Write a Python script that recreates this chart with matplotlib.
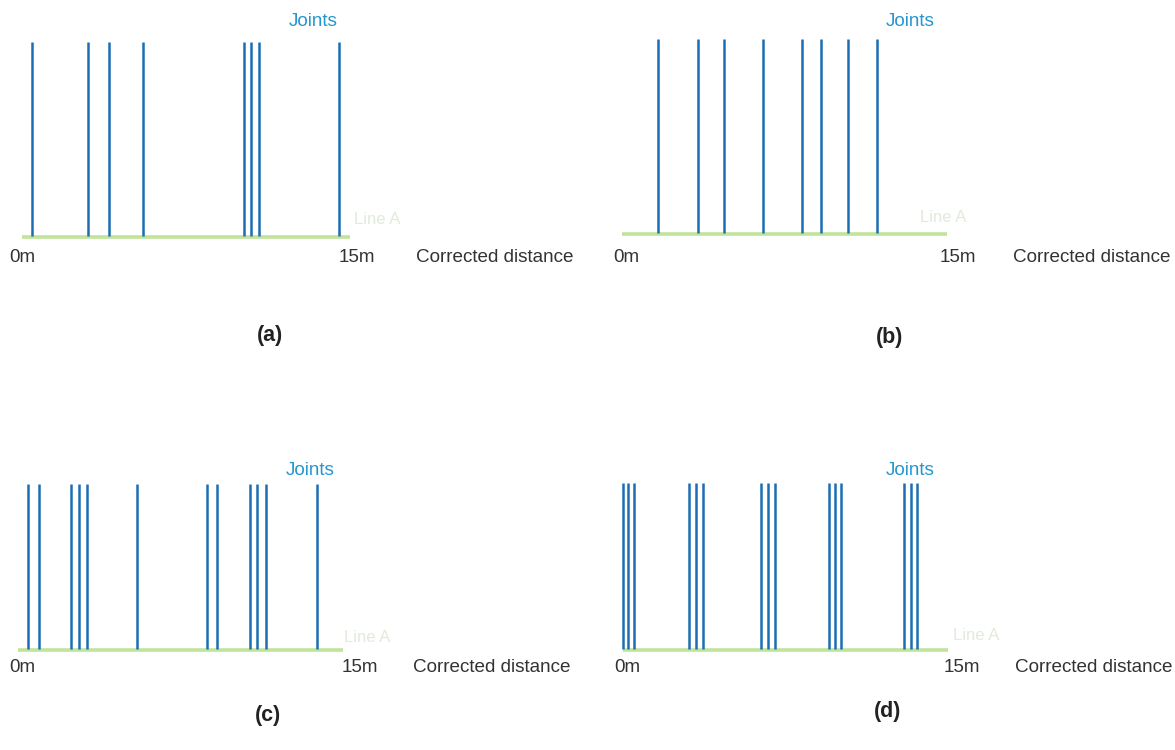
import matplotlib
matplotlib.use("Agg")
import matplotlib.pyplot as plt

plt.rcParams['font.family'] = ['Liberation Sans', 'DejaVu Sans']

W, H = 1175, 750

# joint positions along line A (m)
joints_a = [0.48, 3.02, 3.97, 5.56, 10.14, 10.48, 10.84, 14.50]
joints_b = [1.69, 3.51, 4.73, 6.53, 8.33, 9.21, 10.46, 11.77]
joints_c = [0.48, 0.97, 2.45, 2.80, 3.17, 5.48, 8.71, 9.20, 10.71, 11.04, 11.44, 13.81]
joints_d = [0.03, 0.26, 0.53, 3.07, 3.36, 3.71, 6.36, 6.69, 7.00,
            9.49, 9.77, 10.04, 12.96, 13.27, 13.54]
panel_names = ["(a)", "(b)", "(c)", "(d)"]
line_length = 15

joint_col = "#1c6db3"
label_col = "#2596cf"
green = "#c2e49a"
faint = "#e2ebda"


def px(x, y):
    # pixel position (top-left origin) -> figure fraction
    return x / W, 1 - y / H


fig = plt.figure(figsize=(W / 100, H / 100), dpi=100)

# left, right, baseline y, top y of each panel (pixels)
boxes = [
    (21.7, 350.0, 237, 41.5),
    (621.7, 946.7, 234, 38.5),
    (18.0, 343.0, 650, 484),
    (622.7, 948.3, 650, 483),
]
# joints, line A, 0m, 15m, corrected distance (left edge), panel name
text_pos = [
    dict(j=(313, 22), la=(377, 220), z=(22, 257), f=(357, 257), cd=(416, 257), n=(270, 335)),
    dict(j=(910, 22), la=(943, 217), z=(626, 257), f=(958, 257), cd=(1013, 257), n=(890, 338)),
    dict(j=(310, 470), la=(367, 637), z=(22, 667), f=(360, 667), cd=(413, 667), n=(268, 715)),
    dict(j=(910, 470), la=(976, 636), z=(627, 667), f=(962, 667), cd=(1015, 667), n=(888, 712)),
]
all_joints = [joints_a, joints_b, joints_c, joints_d]
fs = 13.6

for joints, box, tp, name in zip(all_joints, boxes, text_pos, panel_names):
    l, r, yb, yt = box
    x0, y0 = px(l, yb)
    ax = fig.add_axes([x0, y0, (r - l) / W, (yb - yt) / H])
    ax.set_xlim(0, line_length)
    ax.set_ylim(0, 1)
    ax.axis("off")
    ax.plot([0, line_length], [0, 0], color=green, lw=2.6, clip_on=False,
            solid_capstyle="butt", zorder=1)
    ax.vlines(joints, 0.005, 1, color=joint_col, lw=1.8, clip_on=False, zorder=2)

    fig.text(*px(*tp["j"]), "Joints", color=label_col, fontsize=fs,
             ha="center", va="center")
    fig.text(*px(*tp["la"]), "Line A", color=faint, fontsize=12,
             ha="center", va="center")
    fig.text(*px(*tp["z"]), "0m", color="#333333", fontsize=fs,
             ha="center", va="center")
    fig.text(*px(*tp["f"]), "15m", color="#333333", fontsize=fs,
             ha="center", va="center")
    fig.text(*px(*tp["cd"]), "Corrected distance", color="#333333", fontsize=fs,
             ha="left", va="center")
    fig.text(*px(*tp["n"]), name, color="#222222", fontsize=15.5, fontweight="bold",
             ha="center", va="center")

fig.savefig("out.png", dpi=100)
